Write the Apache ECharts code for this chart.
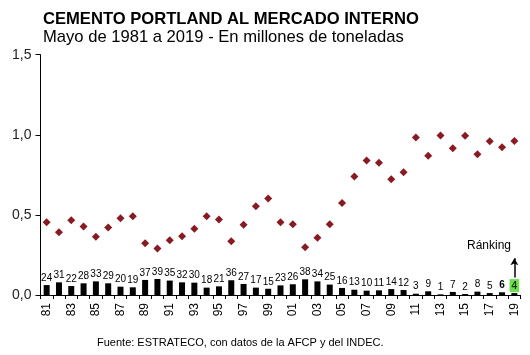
<!DOCTYPE html>
<html>
<head>
<meta charset="utf-8">
<script src="https://cdn.jsdelivr.net/npm/echarts@6/dist/echarts.min.js"></script>
<style>html,body{margin:0;padding:0;background:#fff}#c{width:530px;height:355px}</style>
</head>
<body>
<div id="c"></div>
<script>
const years = ['81','82','83','84','85','86','87','88','89','90','91','92','93','94','95','96','97','98','99','00','01','02','03','04','05','06','07','08','09','10','11','12','13','14','15','16','17','18','19'];
const consumo = [0.454,0.391,0.466,0.427,0.364,0.421,0.479,0.491,0.323,0.291,0.341,0.366,0.414,0.491,0.471,0.335,0.439,0.554,0.602,0.454,0.441,0.298,0.358,0.441,0.575,0.739,0.839,0.825,0.723,0.766,0.983,0.869,0.996,0.916,0.994,0.879,0.960,0.922,0.962];
const barras = [0.062,0.079,0.056,0.073,0.085,0.073,0.052,0.048,0.094,0.100,0.090,0.079,0.077,0.046,0.054,0.092,0.069,0.046,0.039,0.060,0.067,0.098,0.085,0.065,0.044,0.033,0.027,0.029,0.037,0.031,0.008,0.023,0.004,0.019,0.006,0.021,0.012,0.017,0.012];
const ranking = [24,31,22,28,33,29,20,19,37,39,35,32,30,18,21,36,27,17,15,23,26,38,34,25,16,13,10,11,14,12,3,9,1,7,2,8,5,6,4];
const yTicks = ['0,0','0,5','1,0','1,5'];

const chart = echarts.init(document.getElementById('c'), null, {renderer:'canvas'});
const n = years.length;
const barData = barras.map((v,i)=>{
  const item = {value:v};
  if (i === n-1) {
    item.label = {fontWeight:'bold', backgroundColor:'#6ee04c', padding:[2,2,1,2], color:'#1a3a10', distance:1};
  } else if (i === n-2) {
    item.label = {fontWeight:'bold'};
  }
  return item;
});

chart.setOption({
  animation:false,
  backgroundColor:'#fff',
  title:[
    {text:'CEMENTO PORTLAND AL MERCADO INTERNO', left:43, top:11, padding:0,
     textStyle:{fontFamily:'Liberation Sans', fontSize:16.6, fontWeight:'bold', color:'#000'}},
    {text:'Mayo de 1981 a 2019 - En millones de toneladas', left:43, top:29, padding:0,
     textStyle:{fontFamily:'Liberation Sans', fontSize:16.6, fontWeight:'normal', color:'#000'}},
    {text:'Fuente: ESTRATECO, con datos de la AFCP y del INDEC.', left:97, top:337, padding:0,
     textStyle:{fontFamily:'Liberation Sans', fontSize:11, fontWeight:'normal', color:'#000'}}
  ],
  grid:{left:40.5, right:9.5, top:54.7, bottom:60, containLabel:false},
  xAxis:{
    type:'category', data:years, boundaryGap:true,
    axisLine:{lineStyle:{color:'#000', width:1}},
    axisTick:{show:true, interval:0, length:4, lineStyle:{color:'#000'}},
    axisLabel:{interval:1, rotate:90, margin:8, fontFamily:'Liberation Sans', fontSize:12, color:'#000'},
    splitLine:{show:false}
  },
  yAxis:{
    type:'value', min:0, max:1.5, interval:0.5,
    axisLine:{show:true, lineStyle:{color:'#000', width:1}},
    axisTick:{show:true, length:5, lineStyle:{color:'#000'}},
    axisLabel:{fontFamily:'Liberation Sans', fontSize:14, color:'#222', margin:9,
      formatter:(v)=>yTicks[Math.round(v/0.5)]},
    splitLine:{show:false}
  },
  series:[
    {type:'bar', data:barData, barWidth:6, itemStyle:{color:'#000'},
     label:{show:true, position:'top', distance:2, fontFamily:'Liberation Sans', fontSize:10, color:'#000',
       formatter:(p)=>String(ranking[p.dataIndex])},
     markLine:{silent:true, animation:false,
       symbol:['none','arrow'], symbolSize:[6,7],
       lineStyle:{color:'#000', width:1.5, type:'solid'},
       label:{show:false},
       data:[[{coord:[years[n-1], 0.11]},{coord:[years[n-1], 0.23]}]]}
    },
    {type:'scatter', data:consumo, symbol:'diamond', symbolSize:8,
     itemStyle:{color:'#8a1a22', opacity:1}}
  ],
  graphic:[
    {type:'text', left:467, top:240, style:{text:'Ránking', fontFamily:'Liberation Sans', fontSize:12, fill:'#000'}}
  ]
});
</script>
</body>
</html>
